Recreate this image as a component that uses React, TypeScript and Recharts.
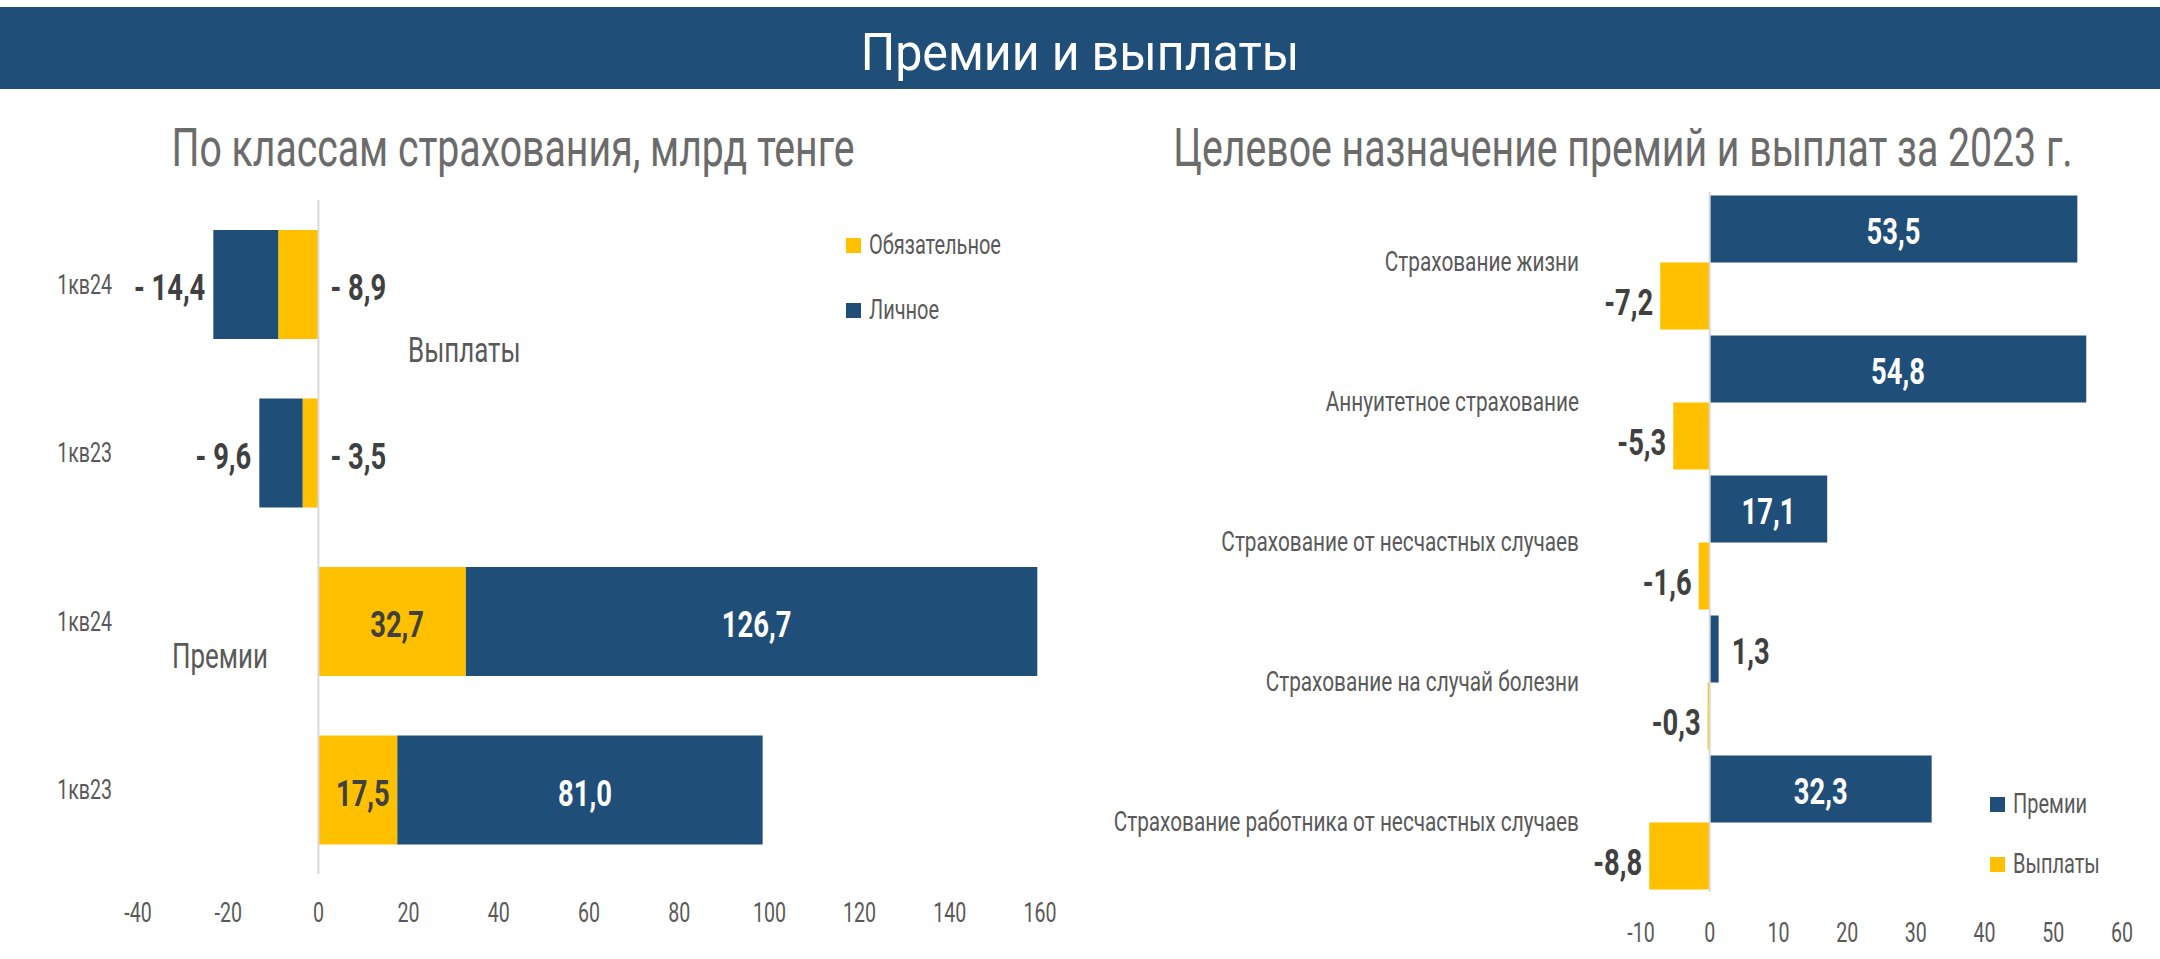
import React from 'react';
import { BarChart, Bar, XAxis, YAxis, ReferenceLine, LabelList, Legend } from 'recharts';

const BASE = "Roboto, 'DejaVu Sans', sans-serif";
const BLUE = '#1F4E79';
const YELLOW = '#FFC000';
const DARK = '#404040';
const GRAY = '#595959';
const TITLE_GRAY = '#6B6B6B';
const AXIS_GRAY = '#D9D9D9';
const SX = 0.74; // horizontal squeeze emulating a condensed face
const SXB = 0.74;

// ---- Left chart: по классам страхования (top to bottom)
const quarterLabels = ['1кв24', '1кв23', '1кв24', '1кв23'];
const quarterGroups = ['Выплаты', 'Выплаты', 'Премии', 'Премии'];
const obligatoryValues = [-8.9, -3.5, 32.7, 17.5];
const personalValues = [-14.4, -9.6, 126.7, 81.0];
const leftTicks = [-40, -20, 0, 20, 40, 60, 80, 100, 120, 140, 160];
const leftSeries = [
  { key: 'obligatory', name: 'Обязательное', color: YELLOW },
  { key: 'personal', name: 'Личное', color: BLUE },
];

// ---- Right chart: целевое назначение (top to bottom)
const purposeLabels = [
  'Страхование жизни',
  'Аннуитетное страхование',
  'Страхование от несчастных случаев',
  'Страхование на случай болезни',
  'Страхование работника от несчастных случаев',
];
const premiumValues = [53.5, 54.8, 17.1, 1.3, 32.3];
const payoutValues = [-7.2, -5.3, -1.6, -0.3, -8.8];
const rightTicks = [-10, 0, 10, 20, 30, 40, 50, 60];
const rightSeries = [
  { key: 'premium', name: 'Премии', color: BLUE },
  { key: 'payout', name: 'Выплаты', color: YELLOW },
];

const leftData = quarterLabels.map((q, i) => ({
  key: `${quarterGroups[i]}-${q}`,
  obligatory: obligatoryValues[i],
  personal: personalValues[i],
}));

const rightData = purposeLabels.map((p, i) => ({
  purpose: p,
  premium: premiumValues[i],
  payout: payoutValues[i],
}));

const fmt = (v: number) => Math.abs(v).toFixed(1).replace('.', ',');
const getVal = (value: any) => (Array.isArray(value) ? value[1] - value[0] : Number(value));

type STProps = {
  x: number; y: number; anchor: 'start' | 'middle' | 'end'; size: number; weight?: number;
  fill: string; sx?: number; children: React.ReactNode;
};
const ScaledText = ({ x, y, anchor, size, weight = 400, fill, sx = SX, children }: STProps) => (
  <text
    transform={`translate(${x},${y}) scale(${sx},1)`}
    textAnchor={anchor}
    dominantBaseline="central"
    fill={fill}
    style={{ fontFamily: BASE, fontSize: size, fontWeight: weight }}
  >
    {children}
  </text>
);

const LBL = 37;

const leftLabel = (series: string) => (props: any) => {
  const { x, y, width, height, value } = props;
  const v = getVal(value);
  const left = Math.min(x, x + width);
  const right = Math.max(x, x + width);
  const cy = y + height / 2 + 3;
  if (v < 0) {
    if (series === 'obligatory') {
      return <ScaledText x={right + 12} y={cy} anchor="start" size={LBL} weight={700} fill={DARK} sx={SXB}>{`- ${fmt(v)}`}</ScaledText>;
    }
    return <ScaledText x={left - 8} y={cy} anchor="end" size={LBL} weight={700} fill={DARK} sx={SXB}>{`- ${fmt(v)}`}</ScaledText>;
  }
  return (
    <ScaledText x={(left + right) / 2 + 5} y={cy} anchor="middle" size={LBL} weight={700}
      fill={series === 'obligatory' ? DARK : '#FFFFFF'} sx={SXB}>
      {fmt(v)}
    </ScaledText>
  );
};

const rightLabel = (series: string) => (props: any) => {
  const { x, y, width, height, value } = props;
  const v = getVal(value);
  const left = Math.min(x, x + width);
  const right = Math.max(x, x + width);
  const cy = y + height / 2 + 2;
  if (series === 'premium') {
    if (right - left > 70) {
      return <ScaledText x={(left + right) / 2} y={cy} anchor="middle" size={LBL} weight={700} fill="#FFFFFF" sx={SXB}>{fmt(v)}</ScaledText>;
    }
    return <ScaledText x={right + 13} y={cy} anchor="start" size={LBL} weight={700} fill={DARK} sx={SXB}>{fmt(v)}</ScaledText>;
  }
  return (
    <ScaledText x={left - 7} y={cy + 4} anchor="end" size={LBL} weight={700} fill={DARK} sx={SXB}>
      {`-${fmt(v)}`}
    </ScaledText>
  );
};

const legendContent = (items: { name: string; color: string }[], gap: number) => () => (
  <div style={{ fontFamily: BASE, fontSize: 27, color: GRAY }}>
    {items.map((it, i) => (
      <div key={i} style={{ display: 'flex', alignItems: 'center', height: 26, marginBottom: i < items.length - 1 ? gap - 26 : 0 }}>
        <span style={{ display: 'inline-block', width: 15, height: 15, background: it.color, marginRight: 8, flex: 'none' }} />
        <span style={{ whiteSpace: 'nowrap', display: 'inline-block', transform: `scaleX(${SX})`, transformOrigin: 'left center' }}>
          {it.name}
        </span>
      </div>
    ))}
  </div>
);

const TICK = 28;
const xTick = (props: any) => (
  <ScaledText x={props.x} y={props.y} anchor="middle" size={TICK} fill={GRAY} sx={0.7}>
    {props.payload.value}
  </ScaledText>
);
const leftYTick = (props: any) => (
  <ScaledText x={props.x} y={props.y} anchor="end" size={TICK} fill={GRAY} sx={0.7}>
    {quarterLabels[props.index]}
  </ScaledText>
);
const rightYTick = (props: any) => (
  <ScaledText x={props.x} y={props.y} anchor="end" size={27} fill={GRAY} sx={0.77}>
    {props.payload.value}
  </ScaledText>
);

const htmlText = (extra: React.CSSProperties): React.CSSProperties => ({
  position: 'absolute', fontFamily: BASE, whiteSpace: 'nowrap', ...extra,
});

export default function App() {
  return (
    <div style={{ position: 'absolute', left: 0, top: 0, width: 2160, height: 959, background: '#FFFFFF', overflow: 'hidden' }}>
      {/* Banner */}
      <div style={{ position: 'absolute', left: 0, top: 7, width: 2160, height: 82, background: BLUE }} />
      <div style={htmlText({
        left: 0, top: 12, width: 2160, height: 82, lineHeight: '82px', textAlign: 'center',
        fontSize: 52, color: '#FFFFFF', transform: 'scaleX(0.93)', transformOrigin: '1080px 50%',
      })}>
        Премии и выплаты
      </div>

      {/* Subtitles */}
      <div style={htmlText({
        left: -187, top: 121, width: 1400, lineHeight: '54px', textAlign: 'center',
        fontSize: 53, color: TITLE_GRAY, transform: `scaleX(${SX})`, transformOrigin: '700px 50%',
      })}>
        По классам страхования, млрд тенге
      </div>
      <div style={htmlText({
        left: 923, top: 121, width: 1400, lineHeight: '54px', textAlign: 'center',
        fontSize: 53, color: TITLE_GRAY, transform: `scaleX(${SX})`, transformOrigin: '700px 50%',
      })}>
        Целевое назначение премий и выплат за 2023 г.
      </div>

      {/* Left chart */}
      <div style={{ position: 'absolute', left: 0, top: 0 }}>
        <BarChart
          width={1100}
          height={959}
          data={leftData}
          layout="vertical"
          margin={{ top: 200, right: 60, bottom: 45, left: 0 }}
          barCategoryGap={30}
        >
          <XAxis type="number" domain={[-40, 160]} ticks={leftTicks} axisLine={false} tickLine={false}
            height={40} tickMargin={33} tick={xTick} interval={0} />
          <YAxis type="category" dataKey="key" width={138} axisLine={false} tickLine={false}
            tickMargin={20} tick={leftYTick} interval={0} />
          <ReferenceLine x={0} stroke={AXIS_GRAY} strokeWidth={2} />
          {leftSeries.map((s) => (
            <Bar key={s.key} dataKey={s.key} name={s.name} stackId="s" fill={s.color} isAnimationActive={false}>
              <LabelList dataKey={s.key} content={leftLabel(s.key)} />
            </Bar>
          ))}
          <Legend layout="vertical" align="center" verticalAlign="middle"
            content={legendContent(leftSeries, 65)}
            wrapperStyle={{ left: 846, top: 232, width: 200, height: 100 }} />
        </BarChart>
      </div>

      {/* Annotations in left chart */}
      <div style={htmlText({ left: 408, top: 333, fontSize: 35, lineHeight: '36px', color: GRAY, transform: `scaleX(${SX})`, transformOrigin: 'left center' })}>
        Выплаты
      </div>
      <div style={htmlText({ left: 172, top: 639, fontSize: 35, lineHeight: '36px', color: GRAY, transform: `scaleX(${SX})`, transformOrigin: 'left center' })}>
        Премии
      </div>

      {/* Right chart */}
      <div style={{ position: 'absolute', left: 1000, top: 0 }}>
        <BarChart
          width={1160}
          height={959}
          data={rightData}
          layout="vertical"
          margin={{ top: 192, right: 38, bottom: 27, left: 0 }}
          barCategoryGap={3.5}
          barGap={0}
        >
          <XAxis type="number" domain={[-10, 60]} ticks={rightTicks} axisLine={false} tickLine={false}
            height={40} tickMargin={35} tick={xTick} interval={0} />
          <YAxis type="category" dataKey="purpose" width={641} axisLine={false} tickLine={false}
            tickMargin={56} tick={rightYTick} interval={0} />
          <ReferenceLine x={0} stroke={AXIS_GRAY} strokeWidth={2} />
          {rightSeries.map((s) => (
            <Bar key={s.key} dataKey={s.key} name={s.name} fill={s.color} isAnimationActive={false}>
              <LabelList dataKey={s.key} content={rightLabel(s.key)} />
            </Bar>
          ))}
          <Legend layout="vertical" align="center" verticalAlign="middle"
            content={legendContent(rightSeries, 60)}
            wrapperStyle={{ left: 990, top: 791, width: 160, height: 100 }} />
        </BarChart>
      </div>
    </div>
  );
}
